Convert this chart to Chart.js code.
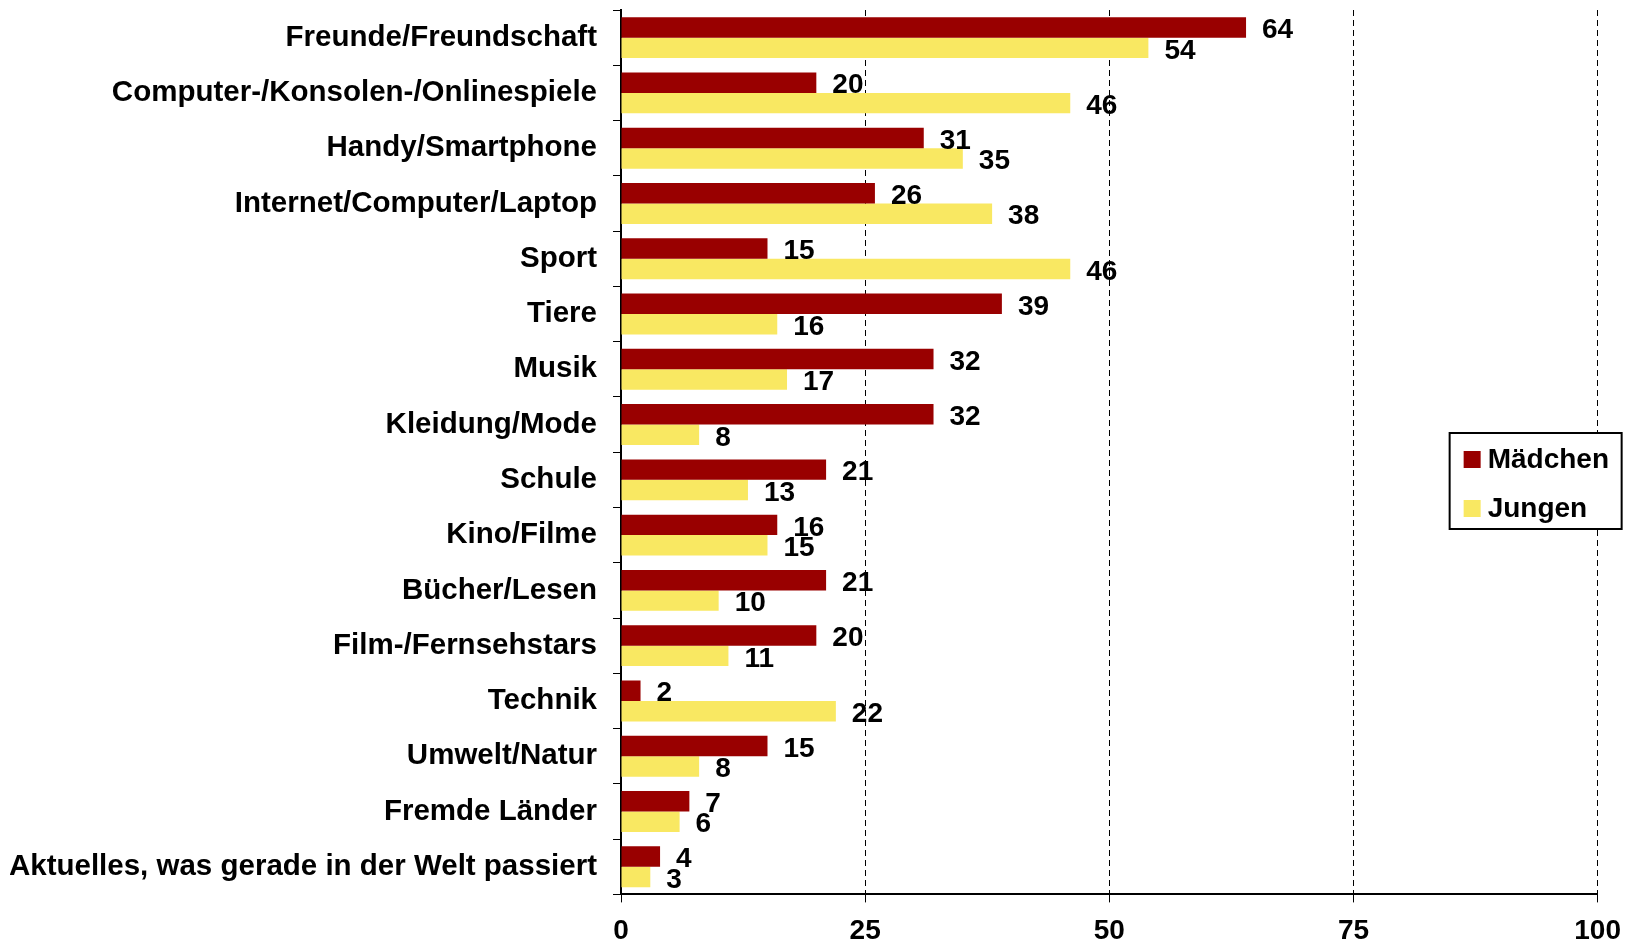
<!DOCTYPE html>
<html>
<head>
<meta charset="utf-8">
<script src="https://cdn.jsdelivr.net/npm/chart.js@4.4.0/dist/chart.umd.min.js"></script>
<style>
  html, body { margin: 0; padding: 0; background: #fff; }
  #wrap { width: 1633px; height: 947px; }
</style>
</head>
<body>
<div id="wrap"><canvas id="chart"></canvas></div>
<script>
var categories = [
  'Freunde/Freundschaft',
  'Computer-/Konsolen-/Onlinespiele',
  'Handy/Smartphone',
  'Internet/Computer/Laptop',
  'Sport',
  'Tiere',
  'Musik',
  'Kleidung/Mode',
  'Schule',
  'Kino/Filme',
  'Bücher/Lesen',
  'Film-/Fernsehstars',
  'Technik',
  'Umwelt/Natur',
  'Fremde Länder',
  'Aktuelles, was gerade in der Welt passiert'
];
var maedchen = [64, 20, 31, 26, 15, 39, 32, 32, 21, 16, 21, 20, 2, 15, 7, 4];
var jungen   = [54, 46, 35, 38, 46, 16, 17, 8, 13, 15, 10, 11, 22, 8, 6, 3];
var seriesNames = ['Mädchen', 'Jungen'];
var xTicks = [0, 25, 50, 75, 100];

var FONT = 'Liberation Sans, Arial, sans-serif';

// value labels right of each bar
var valueLabels = {
  id: 'valueLabels',
  afterDatasetsDraw: function(chart) {
    var ctx = chart.ctx;
    ctx.save();
    ctx.font = 'bold 28px ' + FONT;
    ctx.fillStyle = '#000';
    ctx.textAlign = 'left';
    ctx.textBaseline = 'middle';
    chart.data.datasets.forEach(function(ds, i) {
      chart.getDatasetMeta(i).data.forEach(function(bar, j) {
        ctx.fillText(ds.data[j], bar.x + 16, bar.y + 3);
      });
    });
    ctx.restore();
  }
};

// boxed legend sitting over the right side of the plot
var boxLegend = {
  id: 'boxLegend',
  afterDraw: function(chart) {
    var ctx = chart.ctx;
    var a = chart.chartArea;
    var left = a.right - 148, top = 433, w = 172, h = 96;
    ctx.save();
    ctx.fillStyle = '#fff';
    ctx.fillRect(left, top, w, h);
    ctx.lineWidth = 2;
    ctx.strokeStyle = '#000';
    ctx.strokeRect(left, top, w, h);
    ctx.font = 'bold 28px ' + FONT;
    ctx.textBaseline = 'middle';
    chart.data.datasets.forEach(function(ds, i) {
      var cy = top + 26 + i * 49;
      ctx.fillStyle = ds.backgroundColor;
      ctx.fillRect(left + 14, cy - 8, 17, 17);
      ctx.fillStyle = '#000';
      ctx.fillText(ds.label, left + 38, cy + 1);
    });
    ctx.restore();
  }
};

var ctx = document.getElementById('chart').getContext('2d');
var chart = new Chart(ctx, {
  type: 'bar',
  data: {
    labels: categories,
    datasets: [
      { label: seriesNames[0], data: maedchen, backgroundColor: '#990000' },
      { label: seriesNames[1], data: jungen, backgroundColor: '#F9E862' }
    ]
  },
  options: {
    indexAxis: 'y',
    responsive: true,
    maintainAspectRatio: false,
    animation: false,
    layout: { padding: { left: 10, right: 14, top: 10, bottom: -13 } },
    datasets: { bar: { categoryPercentage: 0.74, barPercentage: 1.0 } },
    plugins: {
      legend: { display: false },
      tooltip: { enabled: false }
    },
    scales: {
      x: {
        min: 0,
        max: 100,
        afterBuildTicks: function(scale) {
          scale.ticks = xTicks.map(function(v) { return { value: v }; });
        },
        grid: {
          color: '#000',
          lineWidth: 1,
          drawTicks: true,
          tickLength: 8,
          tickColor: '#000'
        },
        border: { display: true, color: '#000', width: 2, dash: [6, 4] },
        ticks: {
          color: '#000',
          padding: 12,
          font: { family: FONT, size: 28, weight: 'bold' }
        }
      },
      y: {
        afterFit: function(scale) {
          scale.width = 611;
          scale.paddingTop = 0;
          scale.paddingBottom = 0;
        },
        grid: {
          offset: true,
          drawOnChartArea: false,
          drawTicks: true,
          tickLength: 8,
          color: '#000',
          tickColor: '#000'
        },
        border: { display: true, color: '#000', width: 2 },
        ticks: {
          color: '#000',
          padding: 16,
          autoSkip: false,
          font: { family: FONT, size: 29.5, weight: 'bold' }
        }
      }
    }
  },
  plugins: [valueLabels, boxLegend]
});
</script>
</body>
</html>
